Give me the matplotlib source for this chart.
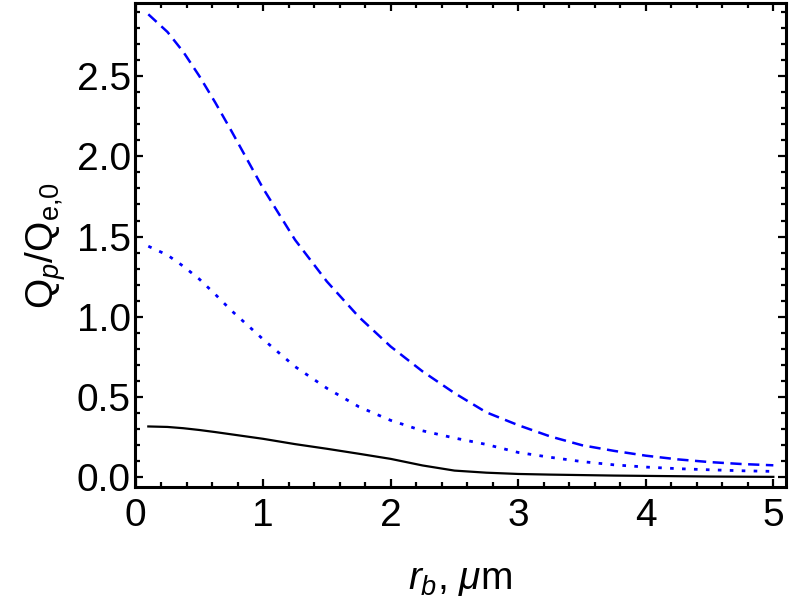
import matplotlib
matplotlib.use('Agg')
import matplotlib.pyplot as plt
from matplotlib.ticker import MultipleLocator, FixedLocator

plt.rcParams['font.family'] = ['Liberation Sans', 'DejaVu Sans']
plt.rcParams['mathtext.fontset'] = 'custom'
plt.rcParams['mathtext.rm'] = 'Liberation Sans'
plt.rcParams['mathtext.it'] = 'Liberation Sans:italic'

# beam radius r_b (um)
rb = [0.1, 0.25, 0.375, 0.5, 0.625, 0.75, 1.0, 1.25, 1.5, 1.75, 2.0, 2.25, 2.5,
      2.75, 3.0, 3.25, 3.5, 3.75, 4.0, 4.25, 4.5, 4.75, 5.0]

# Q_p / Q_e,0 for the three cases
q_dashed = [2.885, 2.775, 2.65, 2.50, 2.335, 2.16, 1.80, 1.48, 1.22, 1.00, 0.815, 0.66, 0.525,
            0.405, 0.325, 0.255, 0.20, 0.165, 0.135, 0.112, 0.095, 0.083, 0.075]
q_dotted = [1.44, 1.385, 1.315, 1.235, 1.14, 1.04, 0.86, 0.69, 0.555, 0.44, 0.355, 0.29, 0.245,
            0.205, 0.155, 0.125, 0.098, 0.078, 0.064, 0.054, 0.047, 0.041, 0.037]
q_solid = [0.317, 0.314, 0.306, 0.295, 0.282, 0.268, 0.24, 0.207, 0.178, 0.147, 0.115, 0.074, 0.042,
           0.029, 0.021, 0.017, 0.014, 0.011, 0.009, 0.007, 0.005, 0.004, 0.003]

x_ticks = [0, 1, 2, 3, 4, 5]

fig = plt.figure(figsize=(7.89, 6.11), dpi=100)
ax = fig.add_axes([0.171, 0.203, 0.825, 0.792])

ax.plot(rb, q_solid, color='black', lw=1.6)
ax.plot(rb, q_dotted, color='#0000ff', lw=2.0, dashes=(1.3, 3.0))
ax.plot(rb, q_dashed, color='#0000ff', lw=1.8, dashes=(4.5, 2.6))

ax.set_xlim(-0.005, 5.098)
ax.set_ylim(-0.06, 2.955)

ax.xaxis.set_major_locator(FixedLocator(x_ticks))
ax.xaxis.set_minor_locator(MultipleLocator(0.2))
ax.yaxis.set_major_locator(MultipleLocator(0.5))
ax.yaxis.set_minor_locator(MultipleLocator(0.1))
ax.xaxis.set_major_formatter(matplotlib.ticker.FormatStrFormatter('%d'))
ax.yaxis.set_major_formatter(matplotlib.ticker.FormatStrFormatter('%.1f'))

ax.tick_params(which='both', direction='in', top=True, right=True, width=1.6)
ax.tick_params(which='major', length=6, labelsize=28, pad=8)
ax.tick_params(which='minor', length=3.5)
ax.tick_params(axis='y', pad=3)

for s in ax.spines.values():
    s.set_linewidth(2.2)

ax.set_xlabel(r'$r_b$, $\mu$m', fontsize=28, labelpad=20)
ax.set_ylabel(r'$\mathrm{Q}_p/\mathrm{Q}_{\mathrm{e{,}0}}$', fontsize=28, labelpad=6)

fig.savefig('out.png', dpi=100)
